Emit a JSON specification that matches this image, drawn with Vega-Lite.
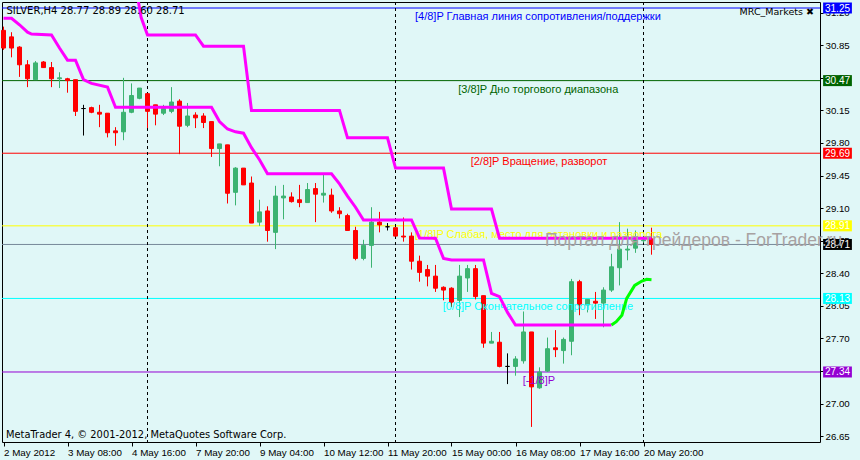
{
  "$schema": "https://vega.github.io/schema/vega-lite/v6.json",
  "width": 818,
  "height": 440,
  "autosize": {"type": "none"},
  "padding": {"left": 2, "top": 2, "right": 40, "bottom": 18},
  "background": "#e0f7f7",
  "config": {
    "view": {"stroke": "#000000", "strokeWidth": 1, "fill": "#e0f7f7"},
    "font": "Liberation Sans",
    "scale": {"continuousPadding": 0}
  },
  "resolve": {"axis": {"x": "independent", "y": "independent"}},
  "data": {"values": [{}]},
  "datasets": {
    "bars": [
      {"i":0,"o":31.01,"h":31.05,"l":30.80,"c":30.82},
      {"i":1,"o":30.94,"h":30.99,"l":30.72,"c":30.82},
      {"i":2,"o":30.83,"h":30.84,"l":30.51,"c":30.64},
      {"i":3,"o":30.64,"h":30.69,"l":30.40,"c":30.49},
      {"i":4,"o":30.48,"h":30.68,"l":30.48,"c":30.66},
      {"i":5,"o":30.67,"h":30.68,"l":30.61,"c":30.61},
      {"i":6,"o":30.61,"h":30.67,"l":30.40,"c":30.49},
      {"i":7,"o":30.49,"h":30.56,"l":30.39,"c":30.50},
      {"i":8,"o":30.49,"h":30.50,"l":30.34,"c":30.47},
      {"i":9,"o":30.48,"h":30.48,"l":30.09,"c":30.14},
      {"i":10,"o":30.17,"h":30.21,"l":29.88,"c":30.17},
      {"i":11,"o":30.18,"h":30.19,"l":30.12,"c":30.13},
      {"i":12,"o":30.13,"h":30.21,"l":29.97,"c":30.11},
      {"i":13,"o":30.12,"h":30.12,"l":29.86,"c":29.91},
      {"i":14,"o":29.93,"h":29.97,"l":29.77,"c":29.91},
      {"i":15,"o":29.92,"h":30.50,"l":29.83,"c":30.13},
      {"i":16,"o":30.13,"h":30.44,"l":30.12,"c":30.31},
      {"i":17,"o":30.28,"h":30.39,"l":30.27,"c":30.39},
      {"i":18,"o":30.33,"h":30.33,"l":29.96,"c":30.14},
      {"i":19,"o":30.21,"h":30.21,"l":29.99,"c":30.11},
      {"i":20,"o":30.12,"h":30.21,"l":30.10,"c":30.17},
      {"i":21,"o":30.14,"h":30.40,"l":30.12,"c":30.24},
      {"i":22,"o":30.25,"h":30.27,"l":29.68,"c":29.98},
      {"i":23,"o":29.99,"h":30.23,"l":29.97,"c":30.09},
      {"i":24,"o":30.10,"h":30.13,"l":29.96,"c":30.07},
      {"i":25,"o":30.09,"h":30.12,"l":29.96,"c":30.02},
      {"i":26,"o":30.03,"h":30.03,"l":29.65,"c":29.74},
      {"i":27,"o":29.74,"h":29.79,"l":29.55,"c":29.79},
      {"i":28,"o":29.78,"h":29.78,"l":29.15,"c":29.26},
      {"i":29,"o":29.27,"h":29.54,"l":29.13,"c":29.53},
      {"i":30,"o":29.53,"h":29.53,"l":29.35,"c":29.35},
      {"i":31,"o":29.37,"h":29.44,"l":28.94,"c":28.94},
      {"i":32,"o":28.95,"h":29.19,"l":28.91,"c":29.06},
      {"i":33,"o":29.07,"h":29.12,"l":28.74,"c":28.86},
      {"i":34,"o":28.84,"h":29.34,"l":28.66,"c":29.23},
      {"i":35,"o":29.21,"h":29.35,"l":28.98,"c":29.23},
      {"i":36,"o":29.22,"h":29.27,"l":29.16,"c":29.17},
      {"i":37,"o":29.19,"h":29.35,"l":29.11,"c":29.16},
      {"i":38,"o":29.16,"h":29.37,"l":29.16,"c":29.30},
      {"i":39,"o":29.31,"h":29.37,"l":28.95,"c":29.25},
      {"i":40,"o":29.24,"h":29.47,"l":29.16,"c":29.26},
      {"i":41,"o":29.24,"h":29.31,"l":29.05,"c":29.07},
      {"i":42,"o":29.07,"h":29.11,"l":28.99,"c":29.04},
      {"i":43,"o":29.02,"h":29.04,"l":28.86,"c":28.86},
      {"i":44,"o":28.86,"h":28.90,"l":28.54,"c":28.56},
      {"i":45,"o":28.56,"h":28.76,"l":28.54,"c":28.70},
      {"i":46,"o":28.70,"h":29.11,"l":28.46,"c":28.95},
      {"i":47,"o":28.95,"h":29.06,"l":28.84,"c":28.92},
      {"i":48,"o":28.90,"h":28.94,"l":28.86,"c":28.90},
      {"i":49,"o":28.89,"h":28.89,"l":28.80,"c":28.80},
      {"i":50,"o":28.80,"h":29.00,"l":28.74,"c":28.79},
      {"i":51,"o":28.80,"h":28.84,"l":28.44,"c":28.53},
      {"i":52,"o":28.53,"h":28.59,"l":28.31,"c":28.41},
      {"i":53,"o":28.44,"h":28.49,"l":28.26,"c":28.37},
      {"i":54,"o":28.37,"h":28.49,"l":28.20,"c":28.24},
      {"i":55,"o":28.25,"h":28.26,"l":28.11,"c":28.22},
      {"i":56,"o":28.24,"h":28.25,"l":28.04,"c":28.09},
      {"i":57,"o":28.11,"h":28.49,"l":27.93,"c":28.37},
      {"i":58,"o":28.35,"h":28.49,"l":28.20,"c":28.45},
      {"i":59,"o":28.45,"h":28.49,"l":28.12,"c":28.15},
      {"i":60,"o":28.16,"h":28.16,"l":27.60,"c":27.65},
      {"i":61,"o":27.65,"h":27.77,"l":27.65,"c":27.67},
      {"i":62,"o":27.66,"h":27.77,"l":27.39,"c":27.40},
      {"i":63,"o":27.40,"h":27.54,"l":27.21,"c":27.40},
      {"i":64,"o":27.40,"h":27.51,"l":27.30,"c":27.48},
      {"i":65,"o":27.46,"h":27.99,"l":27.43,"c":27.77},
      {"i":66,"o":27.77,"h":27.77,"l":26.75,"c":27.18},
      {"i":67,"o":27.17,"h":27.39,"l":27.16,"c":27.34},
      {"i":68,"o":27.35,"h":27.71,"l":27.34,"c":27.59},
      {"i":69,"o":27.60,"h":27.79,"l":27.50,"c":27.58},
      {"i":70,"o":27.57,"h":27.71,"l":27.43,"c":27.69},
      {"i":71,"o":27.67,"h":28.34,"l":27.52,"c":28.31},
      {"i":72,"o":28.31,"h":28.33,"l":27.95,"c":28.06},
      {"i":73,"o":28.06,"h":28.12,"l":27.98,"c":28.12},
      {"i":74,"o":28.10,"h":28.20,"l":27.91,"c":28.08},
      {"i":75,"o":28.08,"h":28.25,"l":27.82,"c":28.22},
      {"i":76,"o":28.22,"h":28.61,"l":28.20,"c":28.47},
      {"i":77,"o":28.46,"h":28.95,"l":28.27,"c":28.66},
      {"i":78,"o":28.65,"h":28.88,"l":28.54,"c":28.66},
      {"i":79,"o":28.67,"h":28.86,"l":28.62,"c":28.76},
      {"i":80,"o":28.75,"h":28.77,"l":28.73,"c":28.76},
      {"i":81,"o":28.77,"h":28.89,"l":28.60,"c":28.71}
    ],
    "upper": [
      {"i":16.7,"p":31.40},{"i":17.2,"p":31.15},{"i":18,"p":30.96},{"i":24,"p":30.96},
      {"i":25,"p":30.84},{"i":30,"p":30.84},{"i":31,"p":30.15},{"i":42,"p":30.15},
      {"i":43,"p":29.855},{"i":48,"p":29.855},{"i":49,"p":29.53},{"i":55,"p":29.53},
      {"i":56,"p":29.09},{"i":61,"p":29.09},{"i":62,"p":28.777},{"i":81,"p":28.777}
    ],
    "lower": [
      {"i":0,"p":31.14},{"i":1,"p":31.14},{"i":2,"p":31.07},{"i":3,"p":30.99},{"i":3.5,"p":30.97},
      {"i":6,"p":30.96},{"i":7,"p":30.82},{"i":8,"p":30.69},{"i":9,"p":30.69},{"i":10,"p":30.48},
      {"i":11,"p":30.44},{"i":13,"p":30.40},{"i":14,"p":30.183},{"i":26,"p":30.183},
      {"i":27,"p":30.03},{"i":28,"p":29.95},{"i":29,"p":29.92},{"i":30,"p":29.905},
      {"i":31,"p":29.75},{"i":32,"p":29.62},{"i":33,"p":29.47},{"i":41,"p":29.47},
      {"i":42,"p":29.36},{"i":43,"p":29.23},{"i":44,"p":29.11},{"i":45,"p":28.973},
      {"i":51,"p":28.973},{"i":52,"p":28.78},{"i":54,"p":28.776},{"i":55,"p":28.56},
      {"i":56,"p":28.543},{"i":60,"p":28.543},{"i":61,"p":28.185},{"i":62,"p":28.15},
      {"i":63,"p":27.98},{"i":64,"p":27.845},{"i":76,"p":27.845}
    ],
    "green": [
      {"i":76,"p":27.845},{"i":76.6,"p":27.88},{"i":77.3,"p":27.95},{"i":77.9,"p":28.13},
      {"i":78.9,"p":28.27},{"i":79.8,"p":28.317},{"i":80.4,"p":28.335},{"i":81,"p":28.33}
    ],
    "seps": [{"i":18},{"i":49},{"i":80}],
    "levels": [
      {"name":"4/8","p":31.25,"label":"[4/8]P Главная линия сопротивления/поддержки","li":51.44},
      {"name":"3/8","p":30.47,"label":"[3/8]P Дно торгового диапазона","li":56.85},
      {"name":"2/8","p":29.69,"label":"[2/8]P Вращение, разворот","li":58.4},
      {"name":"1/8","p":28.91,"label":"[1/8]P Слабая, место для остановки и разворота","li":51.44},
      {"name":"bid","p":28.71,"label":"","li":null},
      {"name":"0/8","p":28.13,"label":"[0/8]P Окончательное сопротивление","li":54.9},
      {"name":"-1/8","p":27.34,"label":"[-1/8]P","li":64.9}
    ]
  },
  "layer": [
    {
      "data": {"name": "levels"},
      "mark": {"type": "rule", "strokeWidth": 1},
      "encoding": {
        "y": {"field": "p", "type": "quantitative",
              "scale": {"domain": [26.588, 31.3145], "nice": false, "zero": false},
              "axis": {"orient": "right", "title": null, "grid": false, "domain": false,
                       "values": [26.65,27.00,27.35,27.70,28.05,28.40,28.75,29.10,29.45,29.80,30.15,30.50,30.85,31.20],
                       "format": ".2f", "tickSize": 3, "tickColor": "#000000", "labelPadding": 2,
                       "labelFont": "Liberation Sans", "labelFontSize": 9.7, "labelColor": "#000000",
                       "labelBound": false, "labelOverlap": false, "labelFlush": false}},
        "color": {"condition": {"test": "datum.name === 'bid'", "value": "#778899"},
                  "field": "name", "type": "nominal", "legend": null,
                  "scale": {"domain": ["4/8","3/8","2/8","1/8","bid","0/8","-1/8"],
                            "range": ["#0000ff","#006400","#ff0000","#ffff00","#000000","#00ffff","#9400d3"]}}
      }
    },
    {
      "data": {"name": "seps"},
      "mark": {"type": "rule", "strokeWidth": 1, "strokeDash": [3, 3], "color": "#000000"},
      "encoding": {
        "x": {"field": "i", "type": "quantitative",
              "scale": {"domain": [-0.1875, 102.0625], "nice": false, "zero": false, "padding": 0},
              "axis": {"orient": "bottom", "title": null, "grid": false, "domain": false,
                       "values": [0,8,16,24,32,40,48,56,64,72,80],
                       "labelExpr": "['2 May 2012','3 May 08:00','4 May 16:00','7 May 20:00','9 May 04:00','10 May 12:00','11 May 20:00','15 May 00:00','16 May 08:00','17 May 16:00','20 May 20:00'][round(datum.value/8)]",
                       "labelAlign": "left", "labelBaseline": "top", "labelAngle": 0, "labelPadding": 1,
                       "tickSize": 4, "tickColor": "#000000", "labelFont": "Liberation Sans", "labelFontSize": 9.8,
                       "labelColor": "#000000", "labelBound": false, "labelOverlap": false, "labelFlush": false}}
      }
    },
    {
      "data": {"name": "bars"},
      "mark": {"type": "rule", "strokeWidth": 1},
      "encoding": {
        "x": {"field": "i", "type": "quantitative", "axis": null,
              "scale": {"domain": [-0.1875, 102.0625], "nice": false, "zero": false, "padding": 0}},
        "y": {"field": "l", "type": "quantitative", "axis": null,
              "scale": {"domain": [26.588, 31.3145], "nice": false, "zero": false}},
        "y2": {"field": "h"},
        "color": {"condition": [{"test": "datum.c > datum.o", "value": "#3cb371"},
                                {"test": "datum.c < datum.o", "value": "#ff0000"}],
                  "value": "#000000"}
      }
    },
    {
      "data": {"name": "bars"},
      "mark": {"type": "bar", "size": 4, "strokeWidth": 1},
      "encoding": {
        "x": {"field": "i", "type": "quantitative", "axis": null,
              "scale": {"domain": [-0.1875, 102.0625], "nice": false, "zero": false, "padding": 0}},
        "y": {"field": "o", "type": "quantitative", "axis": null,
              "scale": {"domain": [26.588, 31.3145], "nice": false, "zero": false}},
        "y2": {"field": "c"},
        "color": {"condition": [{"test": "datum.c > datum.o", "value": "#3cb371"},
                                {"test": "datum.c < datum.o", "value": "#ff0000"}],
                  "value": "#000000"},
        "stroke": {"condition": [{"test": "datum.c > datum.o", "value": "#3cb371"},
                                 {"test": "datum.c < datum.o", "value": "#ff0000"}],
                   "value": "#000000"}
      }
    },
    {
      "data": {"name": "levels"},
      "transform": [{"filter": "datum.label !== ''"}],
      "mark": {"type": "text", "align": "left", "baseline": "alphabetic", "dy": 12, "fontSize": 11},
      "encoding": {
        "x": {"field": "li", "type": "quantitative", "axis": null,
              "scale": {"domain": [-0.1875, 102.0625], "nice": false, "zero": false, "padding": 0}},
        "y": {"field": "p", "type": "quantitative", "axis": null,
              "scale": {"domain": [26.588, 31.3145], "nice": false, "zero": false}},
        "text": {"field": "label"},
        "color": {"field": "name", "type": "nominal", "legend": null,
                  "scale": {"domain": ["4/8","3/8","2/8","1/8","bid","0/8","-1/8"],
                            "range": ["#0000ff","#006400","#ff0000","#ffff00","#000000","#00ffff","#9400d3"]}}
      }
    },
    {
      "data": {"name": "upper"},
      "mark": {"type": "line", "color": "#ff00ff", "strokeWidth": 3, "clip": true},
      "encoding": {
        "x": {"field": "i", "type": "quantitative", "axis": null,
              "scale": {"domain": [-0.1875, 102.0625], "nice": false, "zero": false, "padding": 0}},
        "y": {"field": "p", "type": "quantitative", "axis": null,
              "scale": {"domain": [26.588, 31.3145], "nice": false, "zero": false}}
      }
    },
    {
      "data": {"name": "lower"},
      "mark": {"type": "line", "color": "#ff00ff", "strokeWidth": 3, "clip": true},
      "encoding": {
        "x": {"field": "i", "type": "quantitative", "axis": null,
              "scale": {"domain": [-0.1875, 102.0625], "nice": false, "zero": false, "padding": 0}},
        "y": {"field": "p", "type": "quantitative", "axis": null,
              "scale": {"domain": [26.588, 31.3145], "nice": false, "zero": false}}
      }
    },
    {
      "data": {"name": "green"},
      "mark": {"type": "line", "color": "#00ff00", "strokeWidth": 3, "clip": true},
      "encoding": {
        "x": {"field": "i", "type": "quantitative", "axis": null,
              "scale": {"domain": [-0.1875, 102.0625], "nice": false, "zero": false, "padding": 0}},
        "y": {"field": "p", "type": "quantitative", "axis": null,
              "scale": {"domain": [26.588, 31.3145], "nice": false, "zero": false}}
      }
    },
    {
      "data": {"name": "levels"},
      "mark": {"type": "rect", "yOffset": -5.5, "y2Offset": 5.5},
      "encoding": {
        "x": {"datum": 102.45, "type": "quantitative", "axis": null,
              "scale": {"domain": [-0.1875, 102.0625], "nice": false, "zero": false, "padding": 0}},
        "x2": {"datum": 106.05},
        "y": {"field": "p", "type": "quantitative", "axis": null,
              "scale": {"domain": [26.588, 31.3145], "nice": false, "zero": false}},
        "y2": {"field": "p"},
        "color": {"field": "name", "type": "nominal", "legend": null,
                  "scale": {"domain": ["4/8","3/8","2/8","1/8","bid","0/8","-1/8"],
                            "range": ["#0000ff","#006400","#ff0000","#ffff00","#000000","#00ffff","#9400d3"]}}
      }
    },
    {
      "data": {"name": "levels"},
      "mark": {"type": "text", "align": "center", "baseline": "middle", "font": "Liberation Sans", "fontSize": 10, "color": "#ffffff", "dy": 0.5},
      "encoding": {
        "x": {"datum": 104.25, "type": "quantitative", "axis": null,
              "scale": {"domain": [-0.1875, 102.0625], "nice": false, "zero": false, "padding": 0}},
        "y": {"field": "p", "type": "quantitative", "axis": null,
              "scale": {"domain": [26.588, 31.3145], "nice": false, "zero": false}},
        "text": {"field": "p", "type": "quantitative", "format": ".2f"}
      }
    },
    {
      "mark": {"type": "text", "align": "left", "baseline": "alphabetic", "font": "DejaVu Sans", "fontSize": 10, "color": "#000000"},
      "encoding": {
        "x": {"datum": 0.375, "type": "quantitative", "axis": null,
              "scale": {"domain": [-0.1875, 102.0625], "nice": false, "zero": false, "padding": 0}},
        "y": {"datum": 31.186, "type": "quantitative", "axis": null,
              "scale": {"domain": [26.588, 31.3145], "nice": false, "zero": false}},
        "text": {"value": "SILVER,H4  28.77 28.89 28.60 28.71"}
      }
    },
    {
      "mark": {"type": "text", "align": "right", "baseline": "alphabetic", "font": "DejaVu Sans", "fontSize": 9.5, "color": "#000000"},
      "encoding": {
        "x": {"datum": 101.3, "type": "quantitative", "axis": null,
              "scale": {"domain": [-0.1875, 102.0625], "nice": false, "zero": false, "padding": 0}},
        "y": {"datum": 31.175, "type": "quantitative", "axis": null,
              "scale": {"domain": [26.588, 31.3145], "nice": false, "zero": false}},
        "text": {"value": "MRC_Markets ✖"}
      }
    },
    {
      "mark": {"type": "text", "align": "left", "baseline": "alphabetic", "font": "DejaVu Sans", "fontSize": 9.9, "color": "#000000"},
      "encoding": {
        "x": {"datum": 0.3125, "type": "quantitative", "axis": null,
              "scale": {"domain": [-0.1875, 102.0625], "nice": false, "zero": false, "padding": 0}},
        "y": {"datum": 26.631, "type": "quantitative", "axis": null,
              "scale": {"domain": [26.588, 31.3145], "nice": false, "zero": false}},
        "text": {"value": "MetaTrader 4, © 2001-2012, MetaQuotes Software Corp."}
      }
    },
    {
      "mark": {"type": "text", "align": "left", "baseline": "alphabetic", "font": "Liberation Sans", "fontSize": 17.5, "color": "#a8a2a2"},
      "encoding": {
        "x": {"datum": 67.69, "type": "quantitative", "axis": null,
              "scale": {"domain": [-0.1875, 102.0625], "nice": false, "zero": false, "padding": 0}},
        "y": {"datum": 28.693, "type": "quantitative", "axis": null,
              "scale": {"domain": [26.588, 31.3145], "nice": false, "zero": false}},
        "text": {"value": "Портал для трейдеров - ForTrader.ru"}
      }
    }
  ]
}
